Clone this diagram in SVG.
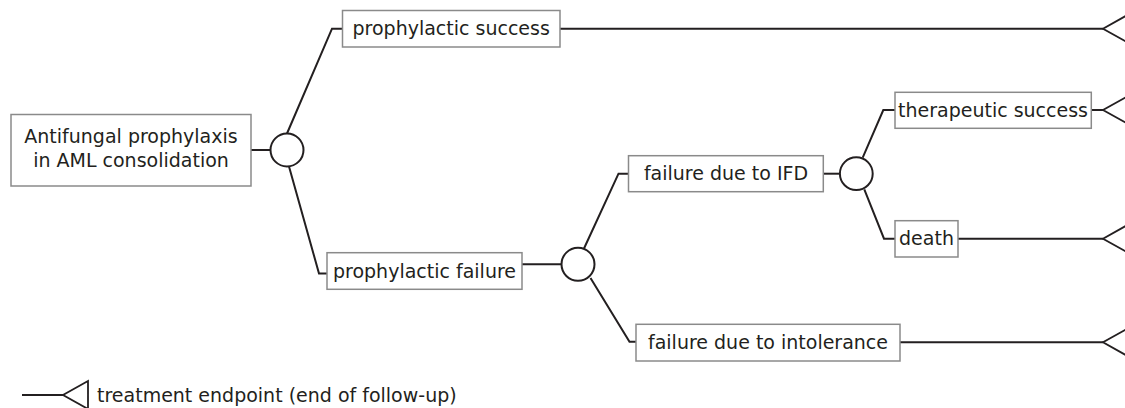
<svg xmlns="http://www.w3.org/2000/svg" xmlns:xlink="http://www.w3.org/1999/xlink" width="1125" height="408" viewBox="0 0 1125 408">
  <style>
    .box { fill: #ffffff; stroke: #8a8a8a; stroke-width: 1.5; }
    .lbl { font-family: "DejaVu Sans", "Liberation Sans", sans-serif; font-size: 19px; fill: #231f20; text-anchor: middle; }
    .leg { font-family: "DejaVu Sans", "Liberation Sans", sans-serif; font-size: 19px; fill: #231f20; }
    .conn { fill: none; stroke: #231f20; stroke-width: 2; stroke-linejoin: miter; }
    .chance { fill: #ffffff; stroke: #231f20; stroke-width: 2; }
    .endpt { fill: #ffffff; stroke: #231f20; stroke-width: 1.8; stroke-linejoin: miter; }
  </style>
  <defs>
    <path id="endpoint" d="M25,-14 L0,0 L25,14 Z"/>
  </defs>
  <rect width="1125" height="408" fill="#ffffff"/>

  <g id="connectors">
    <path class="conn" d="M251,150 L270.5,150"/>
    <path class="conn" d="M287,133.5 L332,28.7 L342.5,28.7"/>
    <path class="conn" d="M289,166.5 L319,273.5 L327,273.5"/>
    <path class="conn" d="M560,28.7 L1103,28.7"/>
    <path class="conn" d="M522,264.3 L561.5,264.3"/>
    <path class="conn" d="M584,248.5 L618.5,173.7 L628.5,173.7"/>
    <path class="conn" d="M590.5,278 L629.5,341.7 L636,341.7"/>
    <path class="conn" d="M823.3,173.7 L840,173.7"/>
    <path class="conn" d="M862.7,157.7 L883.3,110 L895,110"/>
    <path class="conn" d="M864.3,189.3 L884,238.7 L895,238.7"/>
    <path class="conn" d="M1091.3,110 L1103,110"/>
    <path class="conn" d="M958,238.7 L1103,238.7"/>
    <path class="conn" d="M900,342.3 L1103,342.3"/>
  </g>

  <g id="root">
    <rect class="box" x="11" y="114.5" width="240" height="71.5"/>
    <text class="lbl" x="131" y="142.7">Antifungal prophylaxis</text>
    <text class="lbl" x="131" y="166.7">in AML consolidation</text>
  </g>
  <g id="chance1"><circle class="chance" cx="287" cy="150" r="16.5"/></g>

  <g id="prophylactic-success">
    <rect class="box" x="342.5" y="10.5" width="217.5" height="36.5"/>
    <text class="lbl" x="451.2" y="35">prophylactic success</text>
  </g>
  <g id="prophylactic-failure">
    <rect class="box" x="327" y="252.7" width="195" height="36.6"/>
    <text class="lbl" x="424.5" y="277.5">prophylactic failure</text>
  </g>
  <g id="chance2"><circle class="chance" cx="578" cy="264.3" r="16.5"/></g>

  <g id="failure-ifd">
    <rect class="box" x="628.5" y="155.7" width="194.8" height="36"/>
    <text class="lbl" x="726" y="180">failure due to IFD</text>
  </g>
  <g id="chance3"><circle class="chance" cx="856.3" cy="173.7" r="16.4"/></g>

  <g id="failure-intolerance">
    <rect class="box" x="636" y="324.3" width="264" height="36.7"/>
    <text class="lbl" x="768" y="349">failure due to intolerance</text>
  </g>

  <g id="therapeutic-success">
    <rect class="box" x="895" y="92.3" width="196.3" height="36"/>
    <text class="lbl" x="993" y="116.5">therapeutic success</text>
  </g>
  <g id="death">
    <rect class="box" x="895" y="220.7" width="63" height="36.3"/>
    <text class="lbl" x="926.5" y="245">death</text>
  </g>

  <g id="endpoints">
    <use xlink:href="#endpoint" class="endpt" x="1103" y="28.7"/>
    <use xlink:href="#endpoint" class="endpt" x="1103" y="110"/>
    <use xlink:href="#endpoint" class="endpt" x="1103" y="238.7"/>
    <use xlink:href="#endpoint" class="endpt" x="1103" y="342.3"/>
  </g>

  <g id="legend">
    <path class="conn" d="M22,395 L63,395"/>
    <use xlink:href="#endpoint" class="endpt" x="63" y="395"/>
    <text class="leg" x="97" y="402">treatment endpoint (end of follow-up)</text>
  </g>
</svg>
